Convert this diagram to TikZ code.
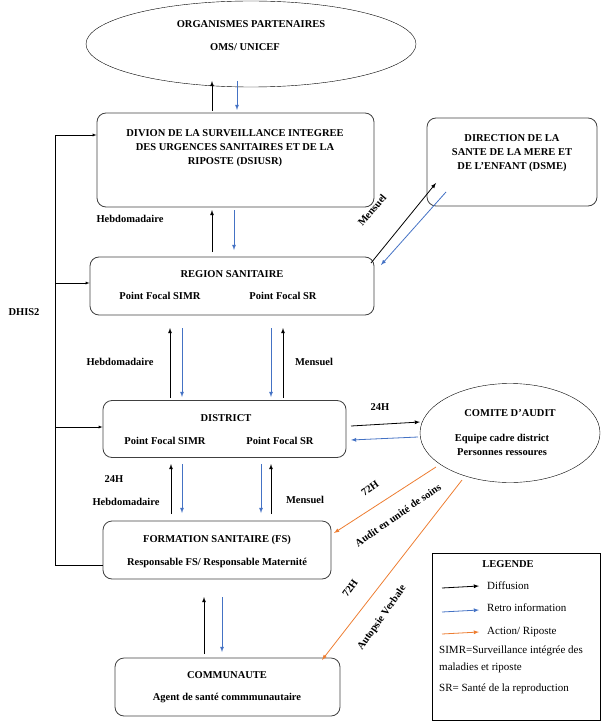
\documentclass[tikz,border=0pt]{standalone}
\usepackage{fontspec}
\setmainfont{Liberation Serif}
\usetikzlibrary{shapes,arrows,positioning,calc}
\definecolor{retro}{RGB}{68,114,196}
\definecolor{riposte}{RGB}{237,125,49}
\begin{document}
\begin{tikzpicture}[x=1pt,y=-1pt,
  box/.style={draw=black!75,rounded corners=9pt,thick,inner sep=0pt},
  lbl/.style={font=\bfseries\fontsize{10.5}{14}\selectfont,align=center,inner sep=1pt},
  leg/.style={font=\fontsize{11}{15}\selectfont,inner sep=1pt},
  diff/.style={-latex,thick,black},
  retr/.style={-latex,thick,retro},
  act/.style={-latex,thick,riposte}]
\useasboundingbox (0,0) rectangle (608,722);
% nodes
\node[draw,ellipse,minimum width=330,minimum height=86] (part) at (251,44) {};
\node[lbl] at (251,24) {ORGANISMES PARTENAIRES};
\node[lbl] at (245,47) {OMS/ UNICEF};
\node[box,minimum width=277,minimum height=94] (dsiusr) at (235.5,160) {};
\node[lbl] at (235,148) {DIVION DE LA SURVEILLANCE INTEGREE\\DES URGENCES SANITAIRES ET DE LA\\RIPOSTE (DSIUSR)};
\node[box,minimum width=170,minimum height=88] (dsme) at (512,162) {};
\node[lbl] at (512,153) {DIRECTION DE LA\\SANTE DE LA MERE ET\\DE L'ENFANT (DSME)};
\node[box,minimum width=284,minimum height=58] (region) at (232,286) {};
\node[lbl] at (232,274) {REGION SANITAIRE};
\node[lbl] at (160,296) {Point Focal SIMR};
\node[lbl] at (283,296) {Point Focal SR};
\node[box,minimum width=243,minimum height=57] (district) at (224.5,429) {};
\node[lbl] at (226,418) {DISTRICT};
\node[lbl] at (165,441) {Point Focal SIMR};
\node[lbl] at (280,441) {Point Focal SR};
\node[draw,ellipse,minimum width=180,minimum height=99] (comite) at (510,433) {};
\node[lbl] at (510,413) {COMITE D'AUDIT};
\node[lbl] at (502,445) {Equipe cadre district\\Personnes ressoures};
\node[box,minimum width=228,minimum height=58] (fs) at (217,550) {};
\node[lbl] at (217,540) {FORMATION SANITAIRE (FS)};
\node[lbl] at (217,563) {Responsable FS/ Responsable Maternité};
\node[box,minimum width=225,minimum height=58] (comm) at (227.5,687) {};
\node[lbl] at (227,675) {COMMUNAUTE};
\node[lbl] at (227,698) {Agent de santé commmunautaire};
% connectors
\draw[diff] (212,111) -- (212,81);
\draw[retr] (237,81) -- (237,110);
\draw[diff] (212,252) -- (212,210);
\draw[retr] (234,210) -- (234,250);
\draw[diff] (371,263) -- (436,183);
\draw[retr] (446,192) -- (381,265);
\draw[diff] (170,398) -- (170,328);
\draw[retr] (182,328) -- (182,397);
\draw[retr] (271,328) -- (271,397);
\draw[diff] (283,398) -- (283,328);
\draw[diff] (351,426) -- (420,422);
\draw[retr] (418,437) -- (351,440);
\draw[diff] (171,514) -- (171,464);
\draw[retr] (182,464) -- (182,513);
\draw[retr] (261,464) -- (261,513);
\draw[diff] (271,514) -- (271,464);
\draw[diff] (204,654) -- (204,597);
\draw[retr] (222,597) -- (222,652);
\draw[act] (436,467) -- (334,533);
\draw[act] (462,480) -- (322,660);
\draw[thick] (fs.west |- 0,565) -- (55,565) -- (55,135);
\draw[-latex] (55,135) -- (dsiusr.west |- 0,135);
\draw[-latex] (55,283) -- (region.west |- 0,283);
\draw[-latex] (55,427) -- (district.west |- 0,427);
% labels
\node[lbl] at (130,219) {Hebdomadaire};
\node[lbl,rotate=50] at (372,210) {Mensuel};
\node[lbl] at (120,362) {Hebdomadaire};
\node[lbl] at (314,362) {Mensuel};
\node[lbl] at (380,407) {24H};
\node[lbl] at (114,479) {24H};
\node[lbl] at (126,502) {Hebdomadaire};
\node[lbl] at (305,500) {Mensuel};
\node[lbl] at (24,312) {DHIS2};
\node[lbl,rotate=35] at (370,488) {72H};
\node[lbl,rotate=35] at (398,515) {Audit en unité de soins};
\node[lbl,rotate=55] at (350,588) {72H};
\node[lbl,rotate=55] at (382,618) {Autopsie Verbale};
% legend
\node[draw,thick,minimum width=168,minimum height=167] (leg) at (516,636.5) {};
\node[lbl] at (508,564) {LEGENDE};
\draw[diff] (442,588) -- (479,586);
\node[leg,anchor=west] at (486,586) {Diffusion};
\draw[retr] (442,612) -- (479,610);
\node[leg,anchor=west] at (486,608) {Retro information};
\draw[act] (442,634) -- (479,632);
\node[leg,anchor=west] at (486,632) {Action/ Riposte};
\node[leg,anchor=north west,align=left,font=\fontsize{11}{17}\selectfont] at (438,645) {SIMR=Surveillance intégrée des\\maladies et riposte};
\node[leg,anchor=west] at (438,689) {SR= Santé de la reproduction};
\end{tikzpicture}
\end{document}
